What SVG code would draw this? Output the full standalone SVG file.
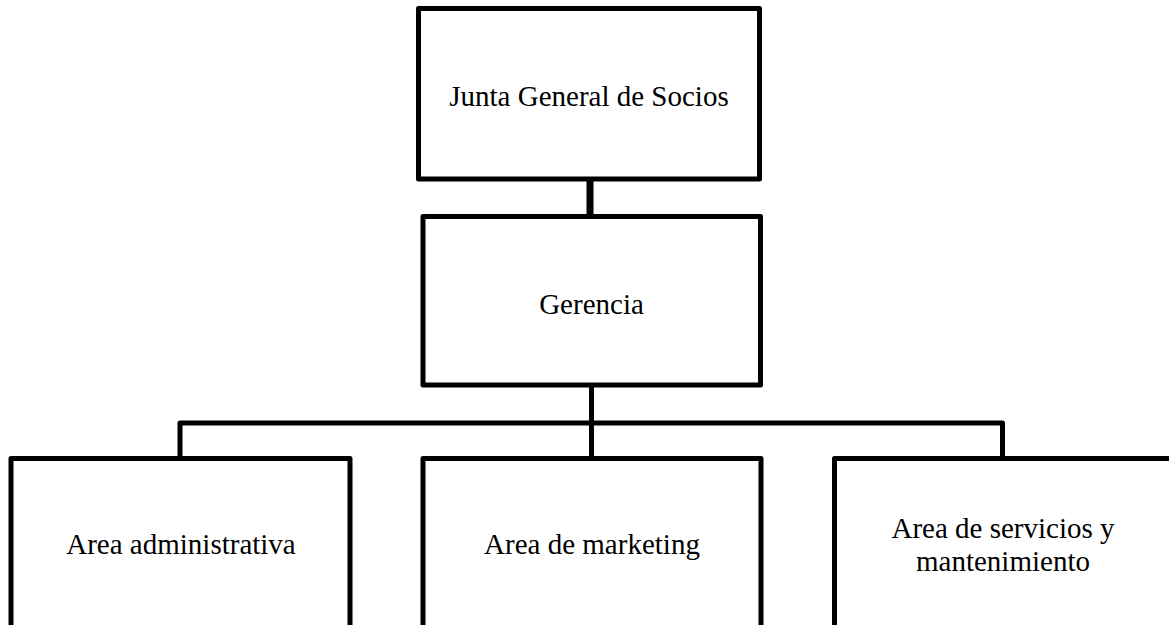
<svg xmlns="http://www.w3.org/2000/svg" width="1169" height="625" viewBox="0 0 1169 625">
<style>
.box{fill:#fff;stroke:#000;stroke-width:5;stroke-linejoin:round}
.lbl{font-family:"Liberation Serif","Times New Roman",serif;font-size:29px;fill:#000;text-anchor:middle}
.con{fill:none;stroke:#000;stroke-width:5;stroke-linejoin:round}
</style>
<rect width="1169" height="625" fill="#fff"/>
<g id="connectors">
<line class="con" x1="590" y1="179" x2="590" y2="216" style="stroke-width:7"/>
<line class="con" x1="591.5" y1="385" x2="591.5" y2="458"/>
<polyline class="con" points="180,458 180,423 1002.5,423 1002.5,458"/>
</g>
<g id="junta">
<rect class="box" x="418.5" y="8.5" width="341" height="170.5"/>
<text class="lbl" x="589" y="106">Junta General de Socios</text>
</g>
<g id="gerencia">
<rect class="box" x="423" y="216.5" width="337.5" height="168.5"/>
<text class="lbl" x="591.5" y="314">Gerencia</text>
</g>
<g id="administrativa">
<rect class="box" x="11" y="458.5" width="339" height="200"/>
<text class="lbl" x="181" y="554">Area administrativa</text>
</g>
<g id="marketing">
<rect class="box" x="423" y="458.5" width="338" height="200"/>
<text class="lbl" x="592" y="554">Area de marketing</text>
</g>
<g id="servicios">
<rect class="box" x="834.5" y="458.5" width="340" height="200"/>
<text class="lbl" x="1003" y="538">Area de servicios y</text>
<text class="lbl" x="1003" y="571">mantenimiento</text>
</g>
</svg>
